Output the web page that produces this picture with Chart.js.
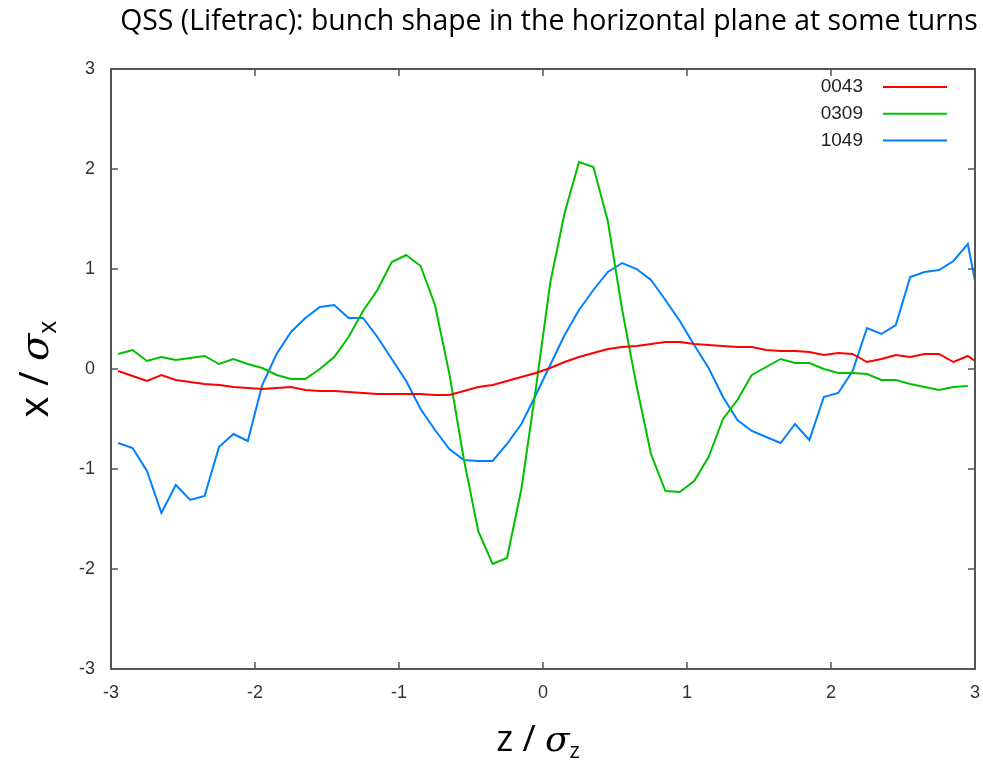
<!DOCTYPE html>
<html>
<head>
<meta charset="utf-8">
<script src="https://cdn.jsdelivr.net/npm/chart.js@4/dist/chart.umd.min.js"></script>
<style>
  html, body { margin: 0; padding: 0; background: #fff; }
  #wrap { position: relative; width: 983px; height: 760px; }
</style>
</head>
<body>
<div id="wrap"><canvas id="bunchChart" width="983" height="760"></canvas></div>
<script>
// z / sigma_z sample points (bin centres)
const zValues = [
  -2.95, -2.85, -2.75, -2.65, -2.55, -2.45, -2.35, -2.25, -2.15, -2.05,
  -1.95, -1.85, -1.75, -1.65, -1.55, -1.45, -1.35, -1.25, -1.15, -1.05,
  -0.95, -0.85, -0.75, -0.65, -0.55, -0.45, -0.35, -0.25, -0.15, -0.05,
   0.05,  0.15,  0.25,  0.35,  0.45,  0.55,  0.65,  0.75,  0.85,  0.95,
   1.05,  1.15,  1.25,  1.35,  1.45,  1.55,  1.65,  1.75,  1.85,  1.95,
   2.05,  2.15,  2.25,  2.35,  2.45,  2.55,  2.65,  2.75,  2.85,  2.95,
   3.05
];

const turn0043 = [
  -0.02, -0.07, -0.12, -0.06, -0.11, -0.13, -0.15, -0.16, -0.18, -0.19,
  -0.20, -0.19, -0.18, -0.21, -0.22, -0.22, -0.23, -0.24, -0.25, -0.25,
  -0.25, -0.25, -0.26, -0.26, -0.22, -0.18, -0.16, -0.12, -0.08, -0.04,
   0.01,  0.07,  0.12,  0.16,  0.20,  0.22,  0.23,  0.25,  0.27,  0.27,
   0.25,  0.24,  0.23,  0.22,  0.22,  0.19,  0.18,  0.18,  0.17,  0.14,
   0.16,  0.15,  0.07,  0.10,  0.14,  0.12,  0.15,  0.15,  0.07,  0.13,
   0.03
];

const turn0309 = [
   0.15,  0.19,  0.08,  0.12,  0.09,  0.11,  0.13,  0.05,  0.10,  0.05,
   0.01, -0.06, -0.10, -0.10,  0.00,  0.12,  0.32,  0.58,  0.79,  1.07,
   1.14,  1.03,  0.64, -0.05, -0.90, -1.62, -1.95, -1.89, -1.20, -0.20,
   0.86,  1.56,  2.07,  2.02,  1.48,  0.59, -0.17, -0.85, -1.22, -1.23,
  -1.12, -0.88, -0.50, -0.31, -0.06,  0.02,  0.10,  0.06,  0.06,  0.00,
  -0.04, -0.04, -0.05, -0.11, -0.11, -0.15, -0.18, -0.21, -0.18, -0.17,
   null
];

const turn1049 = [
  -0.74, -0.79, -1.02, -1.44, -1.16, -1.31, -1.27, -0.78, -0.65, -0.72,
  -0.16,  0.15,  0.37,  0.51,  0.62,  0.64,  0.51,  0.51,  0.32,  0.10,
  -0.12, -0.40, -0.61, -0.80, -0.91, -0.92, -0.92, -0.75, -0.55, -0.26,
   0.04,  0.34,  0.59,  0.79,  0.97,  1.06,  1.00,  0.89,  0.69,  0.48,
   0.24,  0.01, -0.28, -0.51, -0.62, -0.68, -0.74, -0.55, -0.71, -0.28,
  -0.24, -0.02,  0.41,  0.35,  0.44,  0.92,  0.97,  0.99,  1.08,  1.25,
   0.51
];

const seriesNames = ["0043", "0309", "1049"];
const seriesColors = ["#ff0000", "#00c000", "#0080ff"];
const xTicks = [-3, -2, -1, 0, 1, 2, 3];
const yTicks = [-3, -2, -1, 0, 1, 2, 3];

const chartTitle = "QSS (Lifetrac): bunch shape in the horizontal plane at some turns";

function toPoints(values) {
  return zValues.map((z, i) => ({ x: z, y: values[i] }));
}

// draws "a / σ_b" with an italic sigma and a subscript, centred on the origin
function drawSigmaLabel(ctx, base, sub, size) {
  const parts = [
    { t: base + " / ", font: size + "px 'Open Sans'", dy: 0 },
    { t: "σ", font: "italic " + size + "px 'DejaVu Serif'", dy: 0 },
    { t: sub, font: Math.round(size * 0.62) + "px 'Open Sans'", dy: size * 0.2 }
  ];
  let w = 0;
  parts.forEach(p => { ctx.font = p.font; p.w = ctx.measureText(p.t).width; w += p.w; });
  let x = -w / 2;
  ctx.textBaseline = "alphabetic";
  ctx.textAlign = "left";
  parts.forEach(p => { ctx.font = p.font; ctx.fillText(p.t, x, p.dy); x += p.w; });
}

const framePlugin = {
  id: "frame",
  afterDatasetsDraw(chart) {
    const { ctx, chartArea: a, scales } = chart;
    const xs = scales.x, ys = scales.y;
    ctx.save();
    ctx.strokeStyle = "#555";
    ctx.lineWidth = 2;
    ctx.strokeRect(a.left, a.top, a.right - a.left, a.bottom - a.top);

    ctx.lineWidth = 1.5;
    ctx.beginPath();
    xTicks.forEach(v => {
      const px = xs.getPixelForValue(v);
      ctx.moveTo(px, a.bottom); ctx.lineTo(px, a.bottom - 7);
      ctx.moveTo(px, a.top); ctx.lineTo(px, a.top + 7);
    });
    yTicks.forEach(v => {
      const py = ys.getPixelForValue(v);
      ctx.moveTo(a.left, py); ctx.lineTo(a.left + 7, py);
      ctx.moveTo(a.right, py); ctx.lineTo(a.right - 7, py);
    });
    ctx.stroke();

    // legend inside the plot, top right
    ctx.font = "19px 'Liberation Sans'";
    ctx.textAlign = "right";
    ctx.textBaseline = "middle";
    chart.data.datasets.forEach((ds, i) => {
      const rowY = a.top + 18 + i * 26.7;
      ctx.fillStyle = "#222";
      ctx.fillText(ds.label, a.right - 112, rowY);
      ctx.strokeStyle = ds.borderColor;
      ctx.lineWidth = 2;
      ctx.beginPath();
      ctx.moveTo(a.right - 92, rowY);
      ctx.lineTo(a.right - 28, rowY);
      ctx.stroke();
    });

    // title, sized to the width it has in the original
    ctx.fillStyle = "#000";
    ctx.font = "24px 'Open Sans'";
    const tw = ctx.measureText(chartTitle).width;
    const fs = 24 * 857 / tw;
    ctx.font = fs.toFixed(1) + "px 'Open Sans'";
    ctx.textAlign = "center";
    ctx.textBaseline = "middle";
    ctx.fillText(chartTitle, 549, 22);

    // axis titles
    ctx.save();
    ctx.translate((a.left + a.right) / 2 - 5, 751);
    drawSigmaLabel(ctx, "z", "z", 36);
    ctx.restore();

    ctx.save();
    ctx.translate(48, (a.top + a.bottom) / 2);
    ctx.rotate(-Math.PI / 2);
    drawSigmaLabel(ctx, "x", "x", 40);
    ctx.restore();

    ctx.restore();
  }
};

const ctx = document.getElementById("bunchChart").getContext("2d");
new Chart(ctx, {
  type: "line",
  data: {
    datasets: [
      { label: seriesNames[0], data: toPoints(turn0043), borderColor: seriesColors[0] },
      { label: seriesNames[1], data: toPoints(turn0309), borderColor: seriesColors[1] },
      { label: seriesNames[2], data: toPoints(turn1049), borderColor: seriesColors[2] }
    ]
  },
  options: {
    responsive: false,
    animation: false,
    layout: { padding: { top: 69, right: 8, left: 0, bottom: 0 } },
    elements: {
      line: { borderWidth: 2, tension: 0, fill: false },
      point: { radius: 0 }
    },
    plugins: {
      legend: { display: false },
      tooltip: { enabled: false }
    },
    scales: {
      x: {
        type: "linear",
        min: -3, max: 3,
        afterFit: s => { s.height = 91; s.paddingLeft = 0; s.paddingRight = 0; },
        afterBuildTicks: s => { s.ticks = xTicks.map(v => ({ value: v })); },
        grid: { display: false, drawTicks: false },
        border: { display: false },
        ticks: { color: "#333", font: { family: "Liberation Sans", size: 18 }, padding: 13 }
      },
      y: {
        type: "linear",
        min: -3, max: 3,
        afterFit: s => { s.width = 111; s.paddingTop = 0; s.paddingBottom = 0; },
        afterBuildTicks: s => { s.ticks = yTicks.map(v => ({ value: v })); },
        grid: { display: false, drawTicks: false },
        border: { display: false },
        ticks: { color: "#333", font: { family: "Liberation Sans", size: 18 }, padding: 16 }
      }
    }
  },
  plugins: [framePlugin]
});
</script>
</body>
</html>
